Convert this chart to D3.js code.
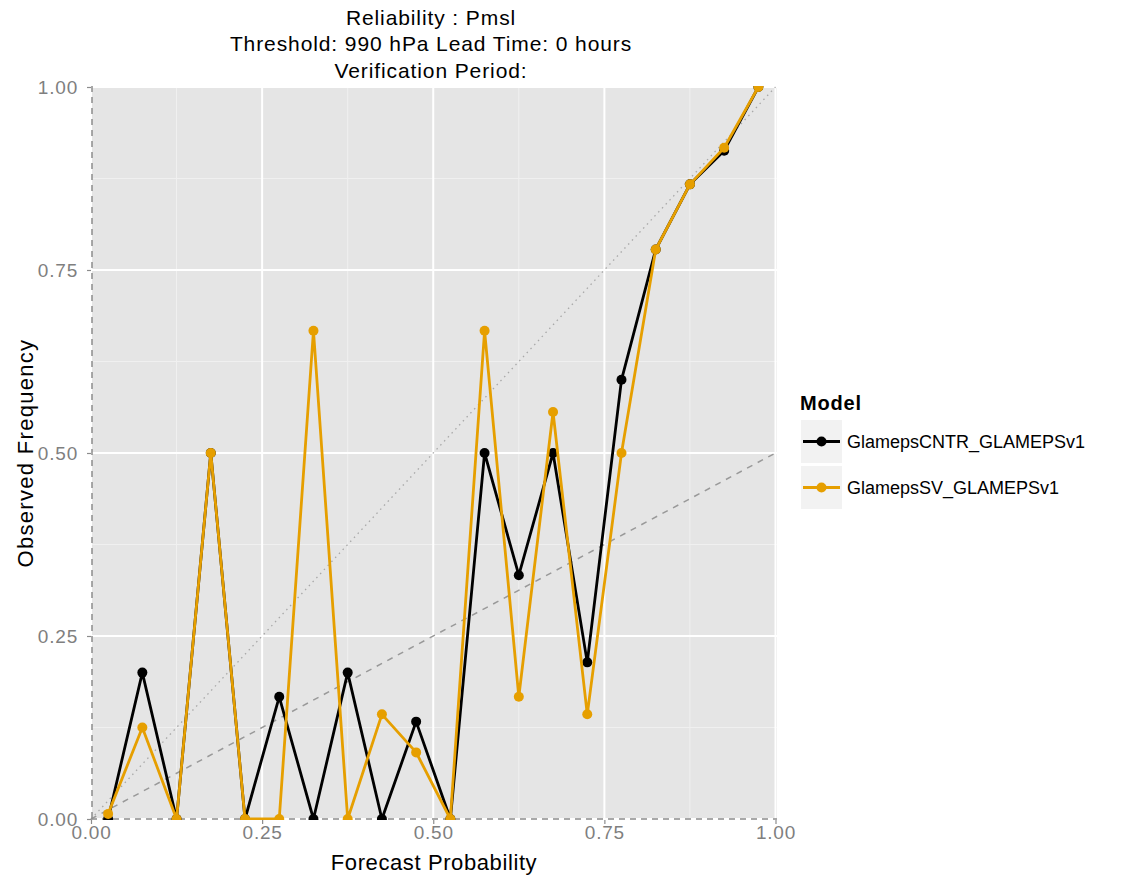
<!DOCTYPE html>
<html><head><meta charset="utf-8">
<script src="https://cdn.jsdelivr.net/npm/d3@7"></script>
<style>body{margin:0;background:#fff;} text{font-family:"Liberation Sans",Arial,sans-serif;}</style>
</head><body>
<svg id="chart" width="1130" height="877"></svg>
<script>
const titleLines = ["Reliability : Pmsl", "Threshold: 990 hPa Lead Time: 0 hours", "Verification Period:"];
const forecastProb = [0.025,0.075,0.125,0.175,0.225,0.275,0.325,0.375,0.425,0.475,0.525,0.575,0.625,0.675,0.725,0.775,0.825,0.875,0.925,0.975];
const cntrValues = [0.0,0.2,0.0,0.5,0.0,0.167,0.0,0.2,0.0,0.133,0.0,0.5,0.333,0.5,0.214,0.6,0.778,0.867,0.913,1.0];
const svValues   = [0.007,0.125,0.0,0.5,0.0,0.0,0.667,0.0,0.143,0.091,0.0,0.667,0.167,0.556,0.143,0.5,0.778,0.867,0.917,1.0];
const seriesNames = ["GlamepsCNTR_GLAMEPSv1","GlamepsSV_GLAMEPSv1"];
const seriesColors = ["#000000","#E69F00"];
const tickValues = [0,0.25,0.5,0.75,1];
const tickLabels = ["0.00","0.25","0.50","0.75","1.00"];

const svg = d3.select("#chart");
const L = 91, R = 777, T = 86, B = 820;
const x = d3.scaleLinear().domain([0,1]).range([L, R - 1.5]);
const y = d3.scaleLinear().domain([0,1]).range([B - 1, T + 1]);

// panel
svg.append("rect").attr("x",L).attr("y",T).attr("width",R-L).attr("height",B-T).attr("fill","#E5E5E5");
const minor = [0.125,0.375,0.625,0.875];
const g = svg.append("g");
minor.forEach(v=>{
  g.append("line").attr("x1",x(v)).attr("x2",x(v)).attr("y1",T).attr("y2",B).attr("stroke","#F0F0F0").attr("stroke-width",1);
  g.append("line").attr("y1",y(v)).attr("y2",y(v)).attr("x1",L).attr("x2",R).attr("stroke","#F0F0F0").attr("stroke-width",1);
});
tickValues.forEach(v=>{
  g.append("line").attr("x1",x(v)).attr("x2",x(v)).attr("y1",T).attr("y2",B).attr("stroke","#FFFFFF").attr("stroke-width",2);
  g.append("line").attr("y1",y(v)).attr("y2",y(v)).attr("x1",L).attr("x2",R).attr("stroke","#FFFFFF").attr("stroke-width",2);
});

// reference lines
svg.append("line").attr("x1",x(0)).attr("y1",y(0)).attr("x2",x(1)).attr("y2",y(1))
  .attr("stroke","#A8A8A8").attr("stroke-width",1.3).attr("stroke-dasharray","1.5,4");
svg.append("line").attr("x1",x(0)).attr("y1",y(0)).attr("x2",x(1)).attr("y2",y(0.5))
  .attr("stroke","#999999").attr("stroke-width",1.5).attr("stroke-dasharray","6,6");
svg.append("line").attr("x1",x(0)+1).attr("y1",T).attr("x2",x(0)+1).attr("y2",B)
  .attr("stroke","#8C8C8C").attr("stroke-width",1.5).attr("stroke-dasharray","6,5");
svg.append("line").attr("x1",L).attr("y1",y(0)).attr("x2",R).attr("y2",y(0))
  .attr("stroke","#8C8C8C").attr("stroke-width",1.5).attr("stroke-dasharray","6,5");

// axes
const xAxis = d3.axisBottom(x).tickValues(tickValues).tickFormat((d,i)=>tickLabels[i]).tickSize(4).tickPadding(2);
const yAxis = d3.axisLeft(y).tickValues(tickValues).tickFormat((d,i)=>tickLabels[i]).tickSize(4).tickPadding(9);
const gx = svg.append("g").attr("transform",`translate(0,${B})`).call(xAxis);
const gy = svg.append("g").attr("transform",`translate(${L},0)`).call(yAxis);
[gx,gy].forEach(a=>{
  a.select(".domain").remove();
  a.selectAll(".tick line").attr("stroke","#8C8C8C").attr("stroke-width",1.2);
  a.selectAll(".tick text").attr("fill","#7F7F7F").style("font-size","19px").style("letter-spacing","0.8px")
    .style("font-family","'Liberation Sans',Arial,sans-serif");
});

// clip
svg.append("clipPath").attr("id","clip").append("rect").attr("x",L).attr("y",T).attr("width",R-L).attr("height",B-T);
const plot = svg.append("g").attr("clip-path","url(#clip)");
const allSeries = [cntrValues, svValues];
const line = d3.line().x((d,i)=>x(forecastProb[i])).y(d=>y(d));
allSeries.forEach((vals,si)=>{
  plot.append("path").datum(vals).attr("d",line).attr("fill","none")
    .attr("stroke",seriesColors[si]).attr("stroke-width",2.8).attr("stroke-linejoin","round");
  plot.selectAll(null).data(vals).enter().append("circle")
    .attr("cx",(d,i)=>x(forecastProb[i])).attr("cy",d=>y(d)).attr("r",5).attr("fill",seriesColors[si]);
});

// titles
titleLines.forEach((t,i)=>{
  svg.append("text").attr("x",431).attr("y",25+i*26.3).attr("text-anchor","middle")
    .style("font-size","21px").style("letter-spacing","0.9px").attr("fill","#000").text(t);
});
svg.append("text").attr("x",434).attr("y",870).attr("text-anchor","middle").style("font-size","22px").style("letter-spacing","0.6px").text("Forecast Probability");
svg.append("text").attr("transform","translate(33,453) rotate(-90)").attr("text-anchor","middle").style("font-size","22px").style("letter-spacing","1.3px").text("Observed Frequency");

// legend
svg.append("text").attr("x",800).attr("y",410).style("font-size","20px").style("font-weight","bold").style("letter-spacing","0.8px").text("Model");
seriesNames.forEach((n,i)=>{
  const ky = 420 + i*46;
  svg.append("rect").attr("x",801).attr("y",ky).attr("width",41).attr("height",43).attr("fill","#F2F2F2");
  svg.append("line").attr("x1",803).attr("x2",840).attr("y1",ky+21.5).attr("y2",ky+21.5).attr("stroke",seriesColors[i]).attr("stroke-width",2.8);
  svg.append("circle").attr("cx",821.5).attr("cy",ky+21.5).attr("r",5).attr("fill",seriesColors[i]);
  svg.append("text").attr("x",847).attr("y",ky+28).style("font-size","18px").text(n);
});
</script>
</body></html>
